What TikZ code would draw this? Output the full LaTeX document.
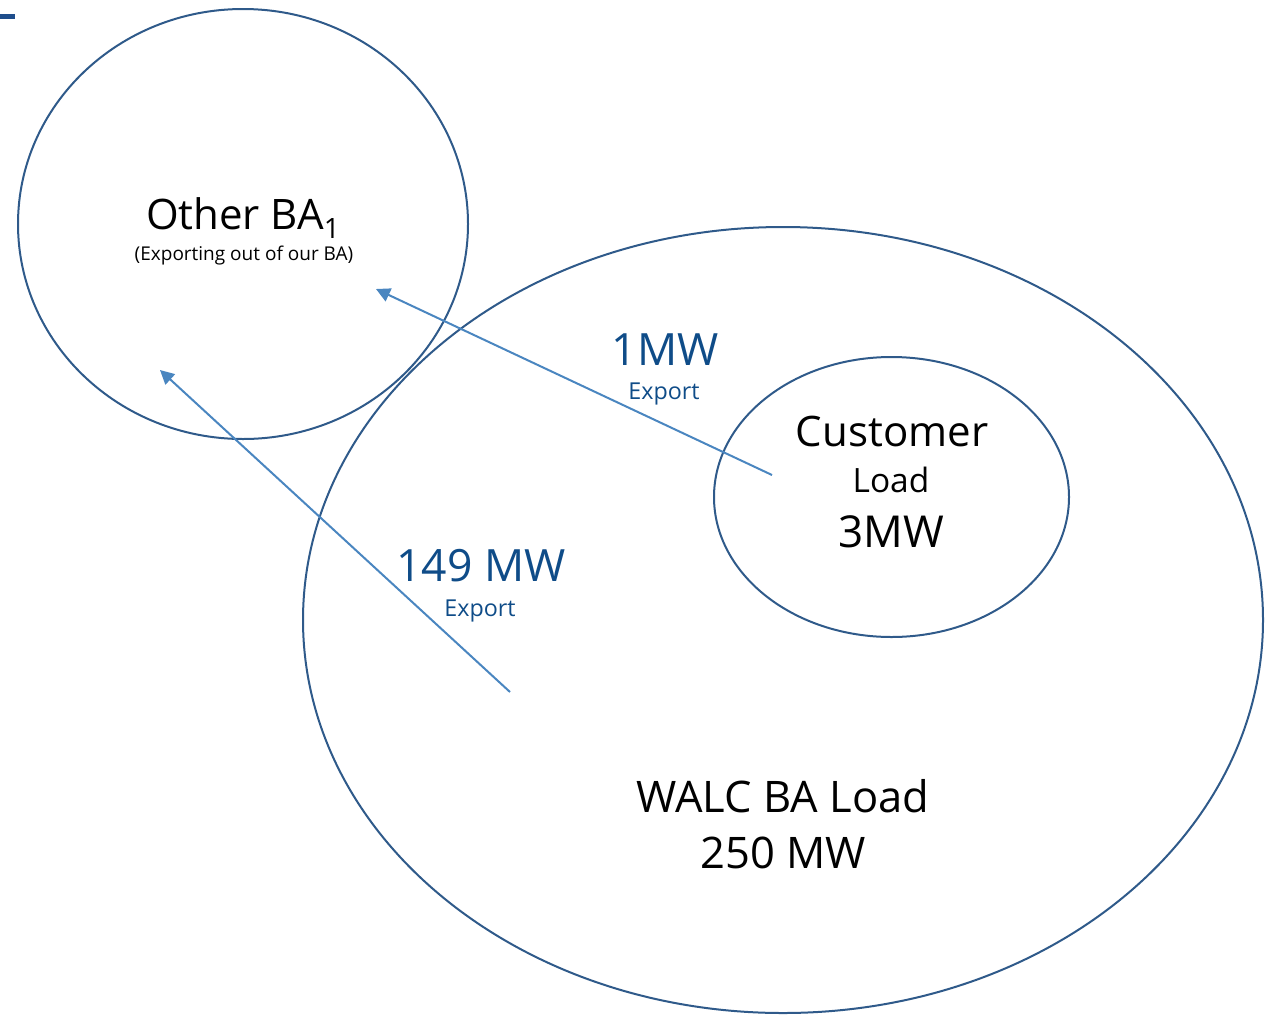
\documentclass[tikz,border=0pt]{standalone}
\usepackage{fontspec}
\setmainfont{Open Sans}
\usetikzlibrary{arrows.meta}
\definecolor{ringblue}{HTML}{2F5A8A}
\definecolor{flowblue}{HTML}{4A86C0}
\definecolor{labelblue}{HTML}{0F4C88}
\definecolor{markblue}{HTML}{1F4E8C}
\tikzset{
  ring/.style={draw=ringblue, line width=2pt},
  flow/.style={draw=flowblue, line width=2pt, -{Triangle[length=14pt,width=14pt]}},
  txt/.style={inner sep=0pt, anchor=center},
  basetxt/.style={inner sep=0pt, anchor=base},
}
\newcommand{\fs}[1]{\fontsize{#1}{#1}\selectfont}
\begin{document}
\begin{tikzpicture}[x=1pt,y=-1pt]
\useasboundingbox (0,0) rectangle (1265,1015);
% corner mark
\fill[markblue] (0,14) rectangle (15,19);
% areas
\draw[ring] (243,224) ellipse [x radius=225, y radius=215];
\draw[ring] (783,620) ellipse [x radius=480, y radius=393];
\draw[ring] (891.5,497) ellipse [x radius=177.5, y radius=140];
% anchors for the flows
\coordinate (custsrc) at (772,475);
\coordinate (custdst) at (376,289);
\coordinate (walcsrc) at (510,692);
\coordinate (walcdst) at (160,370);
\draw[flow] (custsrc) -- (custdst);
\draw[flow] (walcsrc) -- (walcdst);
% labels
\node[basetxt] (other) at (243,229) {\fs{42}Other BA\raisebox{-9pt}{\fs{28}1}};
\node[basetxt] (othersub) at (244,260) {\fs{19}(Exporting out of our BA)};
\node[txt, text=labelblue] (mw1) at (665,350) {\fs{44.5}1MW};
\node[txt, text=labelblue] (exp1) at (664,394) {\fs{23.3}Export};
\node[txt] (cust) at (892,431) {\fs{42}Customer};
\node[txt] (load) at (891,480) {\fs{33.5}Load};
\node[txt] (mw3) at (891,532) {\fs{44}3MW};
\node[txt, text=labelblue] (mw149) at (481,566) {\fs{44.5}149 MW};
\node[txt, text=labelblue] (exp149) at (480,611) {\fs{23.3}Export};
\node[txt] (walc) at (783,796) {\fs{43.5}WALC BA Load};
\node[txt] (mw250) at (783,853) {\fs{43.5}250 MW};
\end{tikzpicture}
\end{document}
